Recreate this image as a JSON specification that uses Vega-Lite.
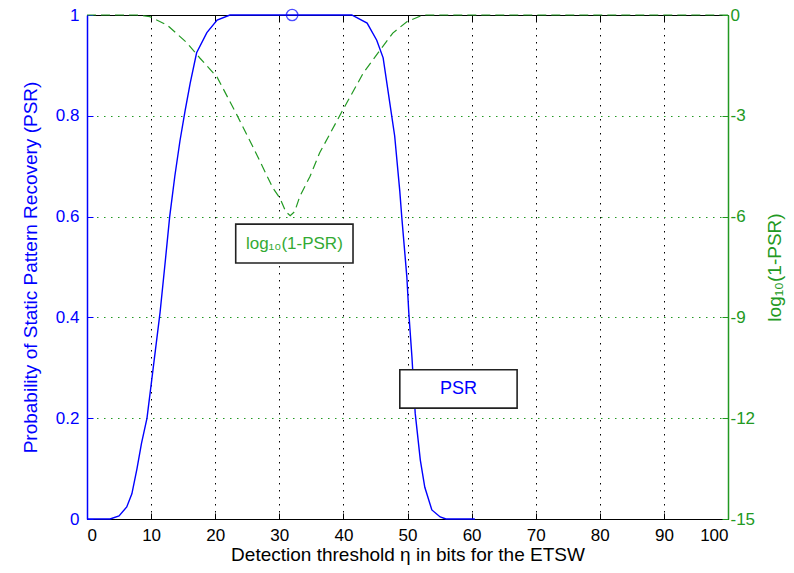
{
  "$schema": "https://vega.github.io/schema/vega-lite/v6.json",
  "width": 641,
  "height": 504,
  "autosize": {"type": "none"},
  "padding": {"left": 87, "top": 15, "right": 66, "bottom": 54},
  "config": {
    "font": "Liberation Sans",
    "view": {"stroke": "black", "strokeWidth": 1},
    "axis": {"titleFontWeight": "normal", "labelFontSize": 17, "titleFontSize": 19}
  },
  "datasets": {
    "psr": [
      {"eta": 0, "psr": 0}, {"eta": 3.6, "psr": 0}, {"eta": 5, "psr": 0.006},
      {"eta": 6.2, "psr": 0.024}, {"eta": 7, "psr": 0.05}, {"eta": 7.8, "psr": 0.1},
      {"eta": 8.5, "psr": 0.15}, {"eta": 9.36, "psr": 0.2}, {"eta": 10.1, "psr": 0.276},
      {"eta": 11.4, "psr": 0.41}, {"eta": 12.2, "psr": 0.51}, {"eta": 12.9, "psr": 0.6},
      {"eta": 13.7, "psr": 0.68}, {"eta": 14.5, "psr": 0.75}, {"eta": 15.3, "psr": 0.81},
      {"eta": 16.1, "psr": 0.865}, {"eta": 17.1, "psr": 0.925}, {"eta": 18.7, "psr": 0.965},
      {"eta": 20.3, "psr": 0.99}, {"eta": 22.3, "psr": 1.0}, {"eta": 41.3, "psr": 1.0},
      {"eta": 43.7, "psr": 0.984}, {"eta": 45.2, "psr": 0.95}, {"eta": 46.2, "psr": 0.915},
      {"eta": 47.3, "psr": 0.82}, {"eta": 48.0, "psr": 0.76}, {"eta": 48.8, "psr": 0.65},
      {"eta": 49.1, "psr": 0.6}, {"eta": 49.9, "psr": 0.48}, {"eta": 50.2, "psr": 0.41},
      {"eta": 50.7, "psr": 0.32}, {"eta": 51.2, "psr": 0.21}, {"eta": 52.0, "psr": 0.117},
      {"eta": 52.7, "psr": 0.063}, {"eta": 53.8, "psr": 0.018}, {"eta": 55.1, "psr": 0.004},
      {"eta": 56, "psr": 0}, {"eta": 60.5, "psr": 0}
    ],
    "logpsr": [
      {"eta": 0, "lg": 0}, {"eta": 7.8, "lg": 0}, {"eta": 9.8, "lg": -0.05},
      {"eta": 12.5, "lg": -0.3}, {"eta": 15.6, "lg": -0.83}, {"eta": 17.6, "lg": -1.28},
      {"eta": 20.3, "lg": -1.85}, {"eta": 23.4, "lg": -2.98}, {"eta": 25.9, "lg": -3.93},
      {"eta": 29.0, "lg": -5.15}, {"eta": 30.1, "lg": -5.45}, {"eta": 31.0, "lg": -5.85},
      {"eta": 31.7, "lg": -5.97}, {"eta": 32.4, "lg": -5.85}, {"eta": 33.2, "lg": -5.4},
      {"eta": 34.8, "lg": -4.8}, {"eta": 36.3, "lg": -4.1}, {"eta": 39.9, "lg": -2.83},
      {"eta": 43.1, "lg": -1.73}, {"eta": 45.7, "lg": -1.05}, {"eta": 47.7, "lg": -0.54},
      {"eta": 49.9, "lg": -0.2}, {"eta": 52.4, "lg": 0}, {"eta": 100, "lg": 0}
    ],
    "marker": [{"eta": 32, "psr": 1}],
    "boxes": [
      {"x1": 23.2, "x2": 41.5, "y1": 0.508, "y2": 0.585, "xc": 32.35, "yc": 0.5465, "label": "log₁₀(1-PSR)"},
      {"x1": 48.8, "x2": 67.1, "y1": 0.22, "y2": 0.296, "xc": 57.95, "yc": 0.258, "label": "PSR"}
    ]
  },
  "layer": [
    {
      "data": {"name": "logpsr"},
      "mark": {"type": "line", "color": "#229922", "strokeWidth": 1.2, "strokeDash": [9, 5]},
      "encoding": {
        "x": {
          "field": "eta", "type": "quantitative",
          "scale": {"domain": [0, 100], "nice": false},
          "axis": {
            "orient": "top", "values": [0, 10, 20, 30, 40, 50, 60, 70, 80, 90, 100],
            "labels": false, "title": null, "tickSize": -6, "tickColor": "black",
            "domain": false,
            "grid": true, "gridColor": "black", "gridDash": [1.5, 5.5], "gridWidth": 1,
            "gridOpacity": {"condition": {"test": "datum.value === 0 || datum.value === 100", "value": 0}, "value": 1}
          }
        },
        "y": {
          "field": "lg", "type": "quantitative",
          "scale": {"domain": [-15, 0], "nice": false, "zero": false},
          "axis": {
            "orient": "right", "values": [-15, -12, -9, -6, -3, 0],
            "labelExpr": "datum.value + ''", "labelColor": "#229922",
            "tickColor": "#229922", "domainColor": "#229922", "domainWidth": 1.5,
            "tickSize": -6, "labelPadding": 8,
            "title": "log₁₀(1-PSR)", "titleColor": "#229922", "titlePadding": 11,
            "titleAngle": 270, "titleBaseline": "top",
            "grid": true, "gridColor": "#229922", "gridDash": [1.5, 5.5], "gridWidth": 1,
            "gridOpacity": {"condition": {"test": "datum.value === 0 || datum.value === -15", "value": 0}, "value": 1}
          }
        }
      }
    },
    {
      "data": {"name": "psr"},
      "mark": {"type": "line", "color": "#0000ff", "strokeWidth": 1.4},
      "encoding": {
        "x": {
          "field": "eta", "type": "quantitative",
          "scale": {"domain": [0, 100], "nice": false},
          "axis": {
            "orient": "bottom", "values": [0, 10, 20, 30, 40, 50, 60, 70, 80, 90, 100],
            "labelColor": "black", "tickColor": "black", "domainColor": "black",
            "tickSize": -6, "labelPadding": 14, "grid": false,
            "title": "Detection threshold η in bits for the ETSW", "titleColor": "black", "titlePadding": 2
          }
        },
        "y": {
          "field": "psr", "type": "quantitative",
          "scale": {"domain": [0, 1], "nice": false},
          "axis": {
            "orient": "left", "values": [0, 0.2, 0.4, 0.6, 0.8, 1],
            "labelExpr": "datum.value + ''", "labelColor": "#0000ff",
            "tickColor": "#0000ff", "domainColor": "#0000ff", "domainWidth": 1.5,
            "tickSize": -6, "labelPadding": 14, "grid": false,
            "title": "Probability of Static Pattern Recovery (PSR)", "titleColor": "#0000ff", "titlePadding": 15
          }
        }
      }
    },
    {
      "data": {"name": "marker"},
      "mark": {"type": "point", "filled": false, "color": "#0000ff", "size": 130, "strokeWidth": 1.3, "clip": false},
      "encoding": {
        "x": {"field": "eta", "type": "quantitative", "scale": {"domain": [0, 100], "nice": false}, "axis": null},
        "y": {"field": "psr", "type": "quantitative", "scale": {"domain": [0, 1], "nice": false}, "axis": null}
      }
    },
    {
      "data": {"name": "boxes"},
      "mark": {"type": "rect", "fill": "white", "stroke": "#222222", "strokeWidth": 1.6},
      "encoding": {
        "x": {"field": "x1", "type": "quantitative", "scale": {"domain": [0, 100], "nice": false}, "axis": null},
        "x2": {"field": "x2"},
        "y": {"field": "y1", "type": "quantitative", "scale": {"domain": [0, 1], "nice": false}, "axis": null},
        "y2": {"field": "y2"}
      }
    },
    {
      "data": {"name": "boxes"},
      "transform": [{"filter": "datum.label === 'PSR'"}],
      "mark": {"type": "text", "color": "#0000ff", "fontSize": 18, "align": "center", "baseline": "middle"},
      "encoding": {
        "x": {"field": "xc", "type": "quantitative", "scale": {"domain": [0, 100], "nice": false}, "axis": null},
        "y": {"field": "yc", "type": "quantitative", "scale": {"domain": [0, 1], "nice": false}, "axis": null},
        "text": {"field": "label"}
      }
    },
    {
      "data": {"name": "boxes"},
      "transform": [{"filter": "datum.label !== 'PSR'"}],
      "mark": {"type": "text", "color": "#33aa33", "fontSize": 17, "align": "center", "baseline": "middle"},
      "encoding": {
        "x": {"field": "xc", "type": "quantitative", "scale": {"domain": [0, 100], "nice": false}, "axis": null},
        "y": {"field": "yc", "type": "quantitative", "scale": {"domain": [0, 1], "nice": false}, "axis": null},
        "text": {"field": "label"}
      }
    }
  ],
  "resolve": {"scale": {"y": "independent"}, "axis": {"x": "independent", "y": "independent"}}
}
